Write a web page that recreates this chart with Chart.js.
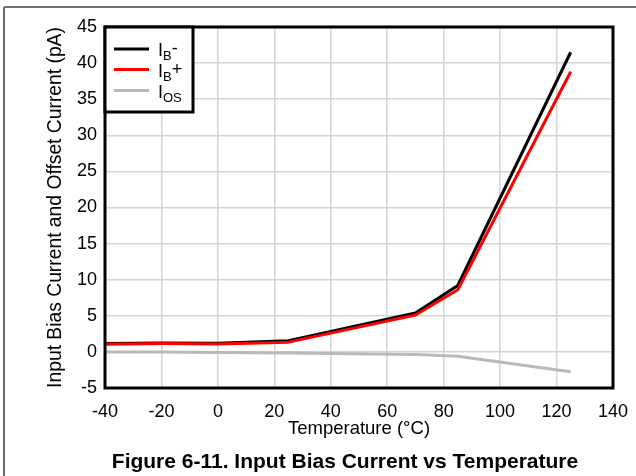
<!DOCTYPE html>
<html>
<head>
<meta charset="utf-8">
<script src="https://cdn.jsdelivr.net/npm/chart.js@4/dist/chart.umd.min.js"></script>
<style>
  html, body { margin: 0; padding: 0; background: #fff; }
  #wrap { width: 636px; height: 476px; position: relative; }
</style>
</head>
<body>
<div id="wrap"><canvas id="biasChart"></canvas></div>
<script>
// temperature points (°C)
const temps = [-40, -20, 0, 25, 70, 85, 125];
// currents (pA)
const ibMinus = [1.15, 1.25, 1.2, 1.55, 5.4, 9.2, 41.5];
const ibPlus = [1.05, 1.15, 1.1, 1.35, 5.1, 8.6, 38.8];
const iOs = [0.0, 0.0, -0.1, -0.15, -0.35, -0.6, -2.75];

// legend text: main letter, subscript, suffix
const legendMain = ["I", "I", "I"];
const legendSub = ["B", "B", "OS"];
const legendSuffix = ["-", "+", ""];
const seriesColors = ["#000000", "#ff0000", "#b9b9b9"];

const caption = "Figure 6-11. Input Bias Current vs Temperature";

const FONT = "'Liberation Sans', Arial, sans-serif";

function pts(ys) {
  return temps.map((t, i) => ({ x: t, y: ys[i] }));
}

// frame round plot, page border lines, legend and caption
const framePlugin = {
  id: "frame",
  afterDraw(chart) {
    const c = chart.ctx, a = chart.chartArea;
    c.save();
    c.strokeStyle = "#000";
    c.lineWidth = 3;
    c.strokeRect(a.left, a.top, a.right - a.left, a.bottom - a.top);

    // page border (top and left)
    c.strokeStyle = "#444";
    c.lineWidth = 1.5;
    c.beginPath();
    c.moveTo(4, 7); c.lineTo(636, 7);
    c.stroke();
    c.strokeStyle = "#666";
    c.lineWidth = 2;
    c.beginPath();
    c.moveTo(4, 7); c.lineTo(4, 476);
    c.stroke();

    // legend with subscripts
    const x0 = a.left, y0 = a.top, w = 88, h = 85;
    c.fillStyle = "#fff";
    c.fillRect(x0, y0, w, h);
    c.strokeStyle = "#000";
    c.lineWidth = 3;
    c.strokeRect(x0, y0, w, h);
    const rows = [22, 42.5, 63.5];
    rows.forEach((dy, i) => {
      const y = y0 + dy;
      c.strokeStyle = seriesColors[i];
      c.lineWidth = 3;
      c.beginPath();
      c.moveTo(x0 + 9, y); c.lineTo(x0 + 44, y);
      c.stroke();
      c.fillStyle = "#000";
      c.textBaseline = "alphabetic";
      c.font = "18px " + FONT;
      let tx = x0 + 53;
      c.fillText(legendMain[i], tx, y + 7);
      tx += c.measureText(legendMain[i]).width;
      c.font = "13px " + FONT;
      c.fillText(legendSub[i], tx, y + 11);
      tx += c.measureText(legendSub[i]).width;
      c.font = "18px " + FONT;
      c.fillText(legendSuffix[i], tx, y + 5);
    });

    // figure caption
    c.fillStyle = "#000";
    c.font = "bold 21px " + FONT;
    c.textAlign = "center";
    c.textBaseline = "alphabetic";
    c.fillText(caption, 345, 468);
    c.restore();
  }
};

new Chart(document.getElementById("biasChart"), {
  type: "line",
  data: {
    datasets: [
      { label: "IB-", data: pts(ibMinus), borderColor: seriesColors[0], order: 2 },
      { label: "IB+", data: pts(ibPlus), borderColor: seriesColors[1], order: 1 },
      { label: "IOS", data: pts(iOs), borderColor: seriesColors[2], order: 3 }
    ]
  },
  options: {
    responsive: true,
    maintainAspectRatio: false,
    animation: false,
    layout: { padding: { top: 27, right: 23, left: 44, bottom: 29 } },
    elements: {
      point: { radius: 0 },
      line: { borderWidth: 3, tension: 0, borderJoinStyle: "round" }
    },
    scales: {
      x: {
        type: "linear",
        min: -40, max: 140,
        ticks: { stepSize: 20, color: "#000", font: { family: FONT, size: 18 }, padding: 13, maxRotation: 0 },
        grid: { color: "#d4d4d4", lineWidth: 1.5, drawTicks: false },
        border: { display: false },
        title: { display: true, text: "Temperature (°C)", color: "#000", font: { family: FONT, size: 18.5 }, padding: { top: 0, bottom: 7 } },
        afterFit(s) { s.height = 59; s.paddingLeft = 0; s.paddingRight = 0; }
      },
      y: {
        min: -5, max: 45,
        ticks: { stepSize: 5, color: "#000", font: { family: FONT, size: 18 }, padding: 8 },
        grid: { color: "#d4d4d4", lineWidth: 1.5, drawTicks: false },
        border: { display: false },
        title: { display: true, text: "Input Bias Current and Offset Current (pA)", color: "#000", font: { family: FONT, size: 19.3 }, padding: { top: 0, bottom: 0 } },
        afterFit(s) { s.width = 61; }
      }
    },
    plugins: {
      legend: { display: false },
      tooltip: { enabled: false },
      title: { display: false }
    }
  },
  plugins: [framePlugin]
});
</script>
</body>
</html>
